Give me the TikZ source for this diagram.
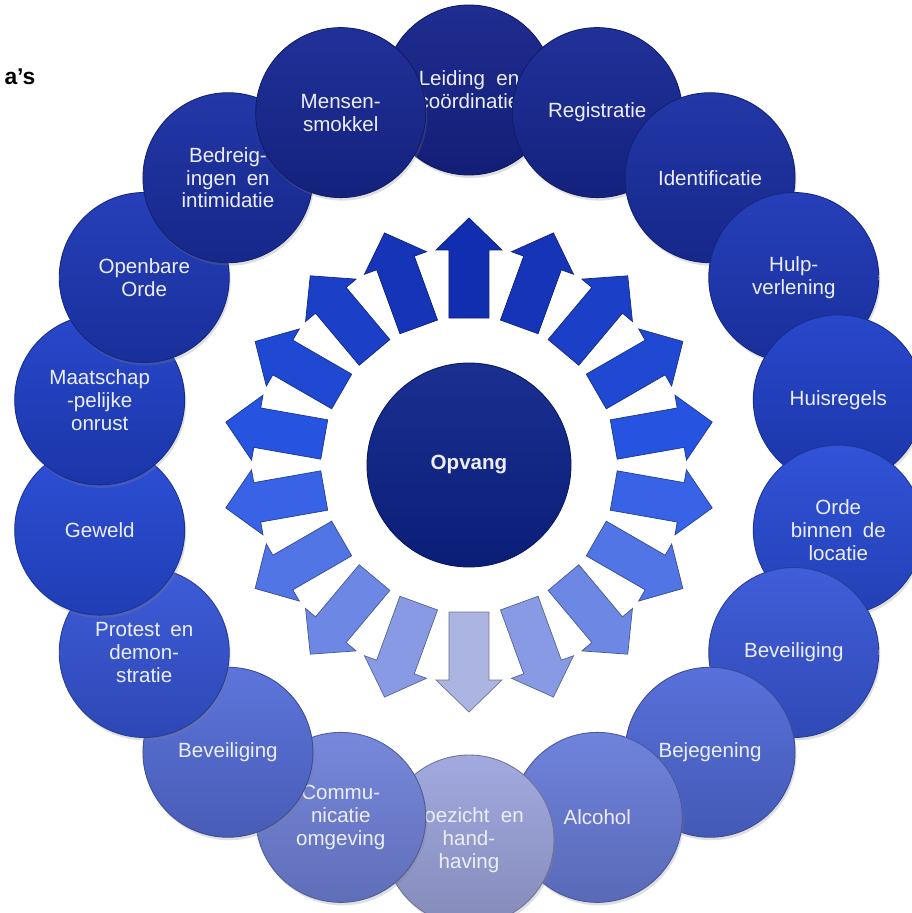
\documentclass[tikz,border=0pt]{standalone}
\usepackage{fontspec}
\setmainfont{Liberation Sans}
\usetikzlibrary{shadows}
\definecolor{ringdark}{RGB}{22,36,140}
\definecolor{ringmid}{RGB}{34,70,214}
\definecolor{ringlight}{RGB}{158,166,222}
\definecolor{arrdark}{RGB}{18,46,176}
\definecolor{arrmid}{RGB}{40,88,230}
\definecolor{arrlight}{RGB}{172,180,226}
\definecolor{hubblue}{RGB}{12,34,138}
\definecolor{labelwhite}{RGB}{236,239,250}
\begin{document}
\begin{tikzpicture}[scale=0.1,
  every node/.style={font=\fontsize{11.7}{13}\selectfont, text=labelwhite, align=center, inner sep=0pt},
  ring/.style={circle, minimum size=3.4cm, draw=#1!70!black, line width=0.5pt, top color=#1!96!white, bottom color=#1!84!black, drop shadow={shadow xshift=0.3mm, shadow yshift=-0.6mm, opacity=0.25}},
  hub/.style={circle, minimum size=4.08cm, draw=hubblue!70!black, line width=0.5pt, top color=hubblue!94!white, bottom color=hubblue!86!black},
  blockarrow/.style={fill=#1, draw=#1!65!black, line width=0.4pt, line join=miter}]
\useasboundingbox (-93.8,-89.6) rectangle (88.6,93);
\node [text=black, font=\fontsize{13}{15}\selectfont\bfseries] (heading) at (-89.8,77.6) {a’s};
\draw [blockarrow=arrdark] (-4,29.4) -- (-4,43) -- (-6.6,43) -- (0,49.4) -- (6.6,43) -- (4,43) -- (4,29.4) -- cycle;
\draw [blockarrow={arrdark!85!arrmid}, rotate=-20] (-4,29.4) -- (-4,43) -- (-6.6,43) -- (0,49.4) -- (6.6,43) -- (4,43) -- (4,29.4) -- cycle;
\draw [blockarrow={arrdark!60!arrmid}, rotate=-40] (-4,29.4) -- (-4,43) -- (-6.6,43) -- (0,49.4) -- (6.6,43) -- (4,43) -- (4,29.4) -- cycle;
\draw [blockarrow={arrdark!35!arrmid}, rotate=-60] (-4,29.4) -- (-4,43) -- (-6.6,43) -- (0,49.4) -- (6.6,43) -- (4,43) -- (4,29.4) -- cycle;
\draw [blockarrow={arrdark!10!arrmid}, rotate=-80] (-4,29.4) -- (-4,43) -- (-6.6,43) -- (0,49.4) -- (6.6,43) -- (4,43) -- (4,29.4) -- cycle;
\draw [blockarrow={arrmid!88!arrlight}, rotate=-100] (-4,29.4) -- (-4,43) -- (-6.6,43) -- (0,49.4) -- (6.6,43) -- (4,43) -- (4,29.4) -- cycle;
\draw [blockarrow={arrmid!68!arrlight}, rotate=-120] (-4,29.4) -- (-4,43) -- (-6.6,43) -- (0,49.4) -- (6.6,43) -- (4,43) -- (4,29.4) -- cycle;
\draw [blockarrow={arrmid!48!arrlight}, rotate=-140] (-4,29.4) -- (-4,43) -- (-6.6,43) -- (0,49.4) -- (6.6,43) -- (4,43) -- (4,29.4) -- cycle;
\draw [blockarrow={arrmid!28!arrlight}, rotate=-160] (-4,29.4) -- (-4,43) -- (-6.6,43) -- (0,49.4) -- (6.6,43) -- (4,43) -- (4,29.4) -- cycle;
\draw [blockarrow=arrlight, rotate=180] (-4,29.4) -- (-4,43) -- (-6.6,43) -- (0,49.4) -- (6.6,43) -- (4,43) -- (4,29.4) -- cycle;
\draw [blockarrow={arrmid!28!arrlight}, rotate=160] (-4,29.4) -- (-4,43) -- (-6.6,43) -- (0,49.4) -- (6.6,43) -- (4,43) -- (4,29.4) -- cycle;
\draw [blockarrow={arrmid!48!arrlight}, rotate=140] (-4,29.4) -- (-4,43) -- (-6.6,43) -- (0,49.4) -- (6.6,43) -- (4,43) -- (4,29.4) -- cycle;
\draw [blockarrow={arrmid!68!arrlight}, rotate=120] (-4,29.4) -- (-4,43) -- (-6.6,43) -- (0,49.4) -- (6.6,43) -- (4,43) -- (4,29.4) -- cycle;
\draw [blockarrow={arrmid!88!arrlight}, rotate=100] (-4,29.4) -- (-4,43) -- (-6.6,43) -- (0,49.4) -- (6.6,43) -- (4,43) -- (4,29.4) -- cycle;
\draw [blockarrow={arrdark!10!arrmid}, rotate=80] (-4,29.4) -- (-4,43) -- (-6.6,43) -- (0,49.4) -- (6.6,43) -- (4,43) -- (4,29.4) -- cycle;
\draw [blockarrow={arrdark!35!arrmid}, rotate=60] (-4,29.4) -- (-4,43) -- (-6.6,43) -- (0,49.4) -- (6.6,43) -- (4,43) -- (4,29.4) -- cycle;
\draw [blockarrow={arrdark!60!arrmid}, rotate=40] (-4,29.4) -- (-4,43) -- (-6.6,43) -- (0,49.4) -- (6.6,43) -- (4,43) -- (4,29.4) -- cycle;
\draw [blockarrow={arrdark!85!arrmid}, rotate=20] (-4,29.4) -- (-4,43) -- (-6.6,43) -- (0,49.4) -- (6.6,43) -- (4,43) -- (4,29.4) -- cycle;
\node [hub] (opvang) at (0,0) {\bfseries Opvang};
\node [ring=ringdark] (leiding) at (90:75) {Leiding\hspace{0.55em}en\\coördinatie};
\node [ring={ringdark!88!ringmid}] (registratie) at (70:75) {Registratie};
\node [ring={ringdark!68!ringmid}] (identificatie) at (50:75) {Identificatie};
\node [ring={ringdark!42!ringmid}] (hulpverlening) at (30:75) {Hulp-\\verlening};
\node [ring={ringdark!18!ringmid}] (huisregels) at (10:75) {Huisregels};
\node [ring={ringmid!94!ringlight}] (orde) at (-10:75) {Orde\\binnen\hspace{0.5em}de\\locatie};
\node [ring={ringmid!82!ringlight}] (beveiligingR) at (-30:75) {Beveiliging};
\node [ring={ringmid!62!ringlight}] (bejegening) at (-50:75) {Bejegening};
\node [ring={ringmid!42!ringlight}] (alcohol) at (-70:75) {Alcohol};
\node [ring=ringlight] (toezicht) at (-90:75) {Toezicht\hspace{0.55em}en\\hand-\\having};
\node [ring={ringmid!36!ringlight}] (communicatie) at (-110:75) {Commu-\\nicatie\\omgeving};
\node [ring={ringmid!58!ringlight}] (beveiligingL) at (-130:75) {Beveiliging};
\node [ring={ringmid!84!ringlight}] (protest) at (-150:75) {Protest\hspace{0.5em}en\\demon-\\stratie};
\node [ring={ringmid!97!ringlight}] (geweld) at (-170:75) {Geweld};
\node [ring={ringdark!18!ringmid}] (onrust) at (170:75) {Maatschap\\-pelijke\\onrust};
\node [ring={ringdark!42!ringmid}] (openbare) at (150:75) {Openbare\\Orde};
\node [ring={ringdark!68!ringmid}] (bedreiging) at (130:75) {Bedreig-\\ingen\hspace{0.5em}en\\intimidatie};
\node [ring={ringdark!88!ringmid}] (smokkel) at (110:75) {Mensen-\\smokkel};
\end{tikzpicture}
\end{document}
